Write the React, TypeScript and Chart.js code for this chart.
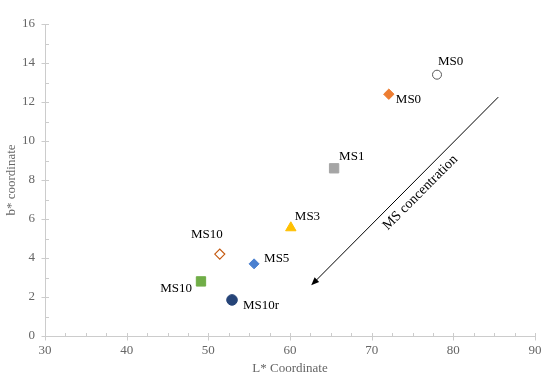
import React, { useEffect, useRef } from "react";
import { Chart, registerables } from "chart.js";

Chart.register(...registerables);

// ---- data ----
const sampleLabels = ["MS0", "MS0", "MS1", "MS3", "MS5", "MS10", "MS10", "MS10r"];
const lValues = [78.0, 72.1, 65.4, 60.1, 55.6, 51.4, 49.1, 52.9];
const bValues = [13.4, 12.4, 8.6, 5.55, 3.7, 4.2, 2.8, 1.85];
const xTicks = [30, 40, 50, 60, 70, 80, 90];
const yTicks = [0, 2, 4, 6, 8, 10, 12, 14, 16];
const xTitle = "L* Coordinate";
const yTitle = "b* coordinate";
const arrowText = "MS concentration";
const arrowFrom = [85.5, 12.25];
const arrowTo = [62.6, 2.6];

// ---- styles ----
const pointStyles = ["circle", "rectRot", "rect", "triangle", "rectRot", "rectRot", "rect", "circle"];
const pointFill = ["#ffffff", "#ED7D31", "#A5A5A5", "#FFC000", "#4A80D0", "#ffffff", "#70AD47", "#264478"];
const pointStroke = ["#595959", "#ED7D31", "#A5A5A5", "#FFC000", "#4A80D0", "#C55A11", "#70AD47", "#264478"];
const pointRadius = [4.5, 5.2, 6.6, 6, 5, 5, 6.6, 5.3];
const pointBorder = [1, 1, 1, 1, 1, 1.2, 1, 1];
// label placement: [dx, dy, align]
const labelOffsets: [number, number, CanvasTextAlign][] = [
  [1, -13, "left"],
  [7, 5, "left"],
  [5, -12, "left"],
  [4, -11, "left"],
  [10, -5, "left"],
  [3, -20, "right"],
  [-9, 7, "right"],
  [11, 6, "left"],
];

const SERIF = "'Liberation Serif', 'Times New Roman', serif";
const AXIS_COLOR = "#cccccc";
const TICK_TEXT = "#666666";

const customDraw = {
  id: "customDraw",
  beforeDatasetsDraw(chart: any) {
    const { ctx, chartArea, scales } = chart;
    const xs = scales.x;
    const ys = scales.y;
    ctx.save();
    ctx.strokeStyle = AXIS_COLOR;
    ctx.lineWidth = 1;
    ctx.beginPath();
    ctx.moveTo(Math.round(chartArea.left) + 0.5, chartArea.top);
    ctx.lineTo(Math.round(chartArea.left) + 0.5, chartArea.bottom);
    ctx.moveTo(chartArea.left, Math.round(chartArea.bottom) + 0.5);
    ctx.lineTo(chartArea.right, Math.round(chartArea.bottom) + 0.5);
    ctx.stroke();
    ctx.beginPath();
    for (let v = xTicks[0]; v <= xTicks[xTicks.length - 1]; v += 2.5) {
      const px = Math.round(xs.getPixelForValue(v)) + 0.5;
      const by = Math.round(chartArea.bottom) + 0.5;
      const major = xTicks.includes(v);
      ctx.moveTo(px, by - 3.5);
      ctx.lineTo(px, major ? by + 4 : by);
    }
    for (let v = yTicks[0]; v <= yTicks[yTicks.length - 1]; v += 1) {
      const py = Math.round(ys.getPixelForValue(v)) + 0.5;
      const lx = Math.round(chartArea.left) + 0.5;
      const major = yTicks.includes(v);
      ctx.moveTo(major ? lx - 4 : lx, py);
      ctx.lineTo(lx + 3.5, py);
    }
    ctx.stroke();
    ctx.fillStyle = TICK_TEXT;
    ctx.font = `13px ${SERIF}`;
    ctx.textAlign = "center";
    ctx.textBaseline = "middle";
    xTicks.forEach((v) => {
      ctx.fillText(String(v), xs.getPixelForValue(v), chartArea.bottom + 15);
    });
    ctx.textAlign = "right";
    yTicks.forEach((v) => {
      ctx.fillText(String(v), chartArea.left - 10, ys.getPixelForValue(v));
    });
    ctx.textAlign = "center";
    ctx.fillText(xTitle, (chartArea.left + chartArea.right) / 2, chartArea.bottom + 33);
    ctx.save();
    ctx.translate(12, (chartArea.top + chartArea.bottom) / 2);
    ctx.rotate(-Math.PI / 2);
    ctx.fillText(yTitle, 0, 0);
    ctx.restore();
    ctx.restore();
  },
  afterDraw(chart: any) {
    const { ctx, scales } = chart;
    const xs = scales.x;
    const ys = scales.y;
    ctx.save();
    ctx.fillStyle = "#000000";
    ctx.font = `13px ${SERIF}`;
    ctx.textBaseline = "middle";
    sampleLabels.forEach((lab, i) => {
      const px = xs.getPixelForValue(lValues[i]);
      const py = ys.getPixelForValue(bValues[i]);
      const [dx, dy, al] = labelOffsets[i];
      ctx.textAlign = al;
      ctx.fillText(lab, px + dx, py + dy);
    });
    const x1 = xs.getPixelForValue(arrowFrom[0]);
    const y1 = ys.getPixelForValue(arrowFrom[1]);
    const x2 = xs.getPixelForValue(arrowTo[0]);
    const y2 = ys.getPixelForValue(arrowTo[1]);
    const ang = Math.atan2(y2 - y1, x2 - x1);
    const headLen = 8;
    const headW = 3.2;
    ctx.strokeStyle = "#000000";
    ctx.lineWidth = 1;
    ctx.beginPath();
    ctx.moveTo(x1, y1);
    ctx.lineTo(x2 - Math.cos(ang) * headLen * 0.8, y2 - Math.sin(ang) * headLen * 0.8);
    ctx.stroke();
    ctx.fillStyle = "#000000";
    ctx.beginPath();
    ctx.moveTo(x2, y2);
    const bx = x2 - Math.cos(ang) * headLen;
    const by = y2 - Math.sin(ang) * headLen;
    ctx.lineTo(bx + Math.sin(ang) * headW, by - Math.cos(ang) * headW);
    ctx.lineTo(bx - Math.sin(ang) * headW, by + Math.cos(ang) * headW);
    ctx.closePath();
    ctx.fill();
    const mx = (x1 + x2) / 2;
    const my = (y1 + y2) / 2;
    const tAng = ang + Math.PI;
    ctx.save();
    ctx.translate(mx, my);
    ctx.rotate(tAng);
    ctx.textAlign = "center";
    ctx.textBaseline = "middle";
    ctx.font = `14px ${SERIF}`;
    ctx.fillText(arrowText, 10, 12);
    ctx.restore();
    ctx.restore();
  },
};

export default function App() {
  const ref = useRef<HTMLCanvasElement | null>(null);
  useEffect(() => {
    if (!ref.current) return;
    const chart = new Chart(ref.current, {
      type: "scatter",
      data: {
        datasets: sampleLabels.map((lab, i) => ({
          label: lab,
          data: [{ x: lValues[i], y: bValues[i] }],
          pointStyle: pointStyles[i] as any,
          backgroundColor: pointFill[i],
          borderColor: pointStroke[i],
          borderWidth: pointBorder[i],
          pointRadius: pointRadius[i],
          pointHoverRadius: pointRadius[i],
        })),
      },
      options: {
        animation: false,
        responsive: false,
        maintainAspectRatio: false,
        layout: { padding: { left: 45, right: 15, top: 24, bottom: 54 } },
        plugins: { legend: { display: false }, tooltip: { enabled: false } },
        scales: {
          x: { type: "linear", min: xTicks[0], max: xTicks[xTicks.length - 1], display: false },
          y: { type: "linear", min: yTicks[0], max: yTicks[yTicks.length - 1], display: false },
        },
      },
      plugins: [customDraw],
    });
    return () => chart.destroy();
  }, []);
  return (
    <div style={{ position: "fixed", left: 0, top: 0, width: 550, height: 390, background: "#fff" }}>
      <canvas ref={ref} width={550} height={390} style={{ width: 550, height: 390 }} />
    </div>
  );
}
